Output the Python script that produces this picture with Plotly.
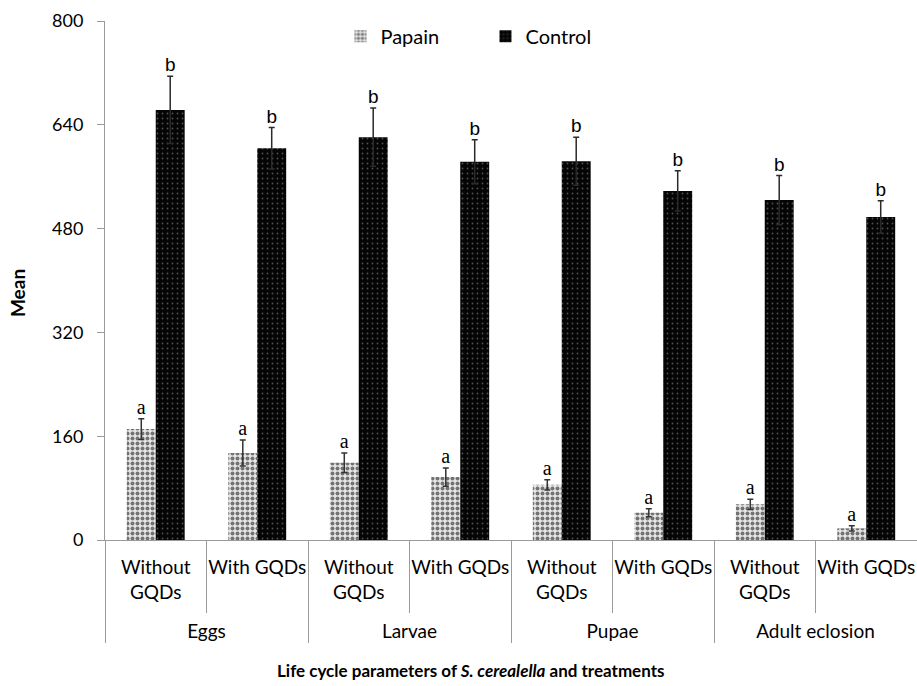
import plotly.graph_objects as go

stages = ["Eggs", "Eggs", "Larvae", "Larvae", "Pupae", "Pupae", "Adult eclosion", "Adult eclosion"]
treatments = ["Without<br>GQDs<br> ", "With GQDs"] * 4

papain = [171, 134, 119, 97, 85, 42, 55, 18]
papain_err = [16, 20, 15, 14, 8, 6, 8, 4]
control = [663, 604, 621, 583, 584, 538, 524, 498]
control_err = [52, 32, 45, 34, 37, 31, 38, 25]
papain_letters = ["a"] * 8
control_letters = ["b"] * 8
y_ticks = [0, 160, 320, 480, 640, 800]

x = [stages, treatments]
font_main = "Lato, Carlito, 'Open Sans', sans-serif"

fig = go.Figure()
fig.add_trace(go.Bar(
    x=x, y=papain, name="Papain", offsetgroup="p",
    marker=dict(color="#e8e8e8", line=dict(width=0),
                pattern=dict(shape=".", fgcolor="#000000", bgcolor="#e6e6e6", size=5, solidity=0.5, fillmode="overlay")),
    error_y=dict(type="data", array=papain_err, color="#333333", thickness=1.5, width=3),
))
fig.add_trace(go.Bar(
    x=x, y=control, name="Control", offsetgroup="c",
    marker=dict(color="black", line=dict(width=0),
                pattern=dict(shape=".", fgcolor="#9a9a9a", bgcolor="#050505", size=5, solidity=0.1, fillmode="overlay")),
    error_y=dict(type="data", array=control_err, color="#2a2a2a", thickness=1.5, width=3),
))
fig.add_trace(go.Scatter(
    x=x, y=[v + e for v, e in zip(papain, papain_err)], mode="text", text=papain_letters,
    textposition="top center", offsetgroup="p", showlegend=False, hoverinfo="skip",
    textfont=dict(family="Liberation Serif, Times New Roman, serif", size=20, color="black"),
))
fig.add_trace(go.Scatter(
    x=x, y=[v + e for v, e in zip(control, control_err)], mode="text", text=control_letters,
    textposition="top center", offsetgroup="c", showlegend=False, hoverinfo="skip",
    textfont=dict(family="Liberation Sans, Arial, sans-serif", size=19, color="black"),
))

fig.update_layout(
    width=917, height=686,
    margin=dict(l=105, r=0, t=21, b=146),
    plot_bgcolor="white", paper_bgcolor="white",
    barmode="group", bargap=0.43, bargroupgap=0, scattermode="group",
    font=dict(family=font_main, size=19, color="black"),
    legend=dict(orientation="h", x=0.29, xanchor="left", y=1.008, yanchor="top",
                font=dict(size=20), entrywidth=100, bgcolor="rgba(0,0,0,0)",
                traceorder="normal"),
    xaxis=dict(
        type="multicategory", automargin=False, showline=True, linecolor="#9a9a9a", linewidth=1,
        ticks="outside", tickson="boundaries", ticklen=72, tickcolor="#9a9a9a",
        showdividers=True, dividercolor="#9a9a9a", dividerwidth=1,
        tickfont=dict(size=19), tickangle=0, ticklabelstandoff=10,
    ),
    yaxis=dict(
        range=[0, 800], tickvals=y_ticks, automargin=False,
        showline=True, linecolor="#9a9a9a", linewidth=1,
        ticks="outside", ticklen=7, tickcolor="#9a9a9a", showgrid=False, zeroline=False,
        tickfont=dict(size=18), ticklabelstandoff=10,
    ),
    annotations=[
        dict(text="<b>Mean</b>", textangle=-90, xref="paper", yref="paper",
             x=-0.107, y=0.476, xanchor="center", yanchor="middle", showarrow=False,
             font=dict(size=19)),
        dict(text="<b>Life cycle parameters of <i>S. cerealella</i> and treatments</b>",
             xref="paper", yref="paper", x=0.4507, y=-0.2505, xanchor="center", yanchor="middle",
             showarrow=False, font=dict(size=17)),
    ],
)

fig.write_html(
    "out.html",
    config={"displayModeBar": False},
    post_script="document.body.style.margin='0';document.body.style.overflow='hidden';",
)
